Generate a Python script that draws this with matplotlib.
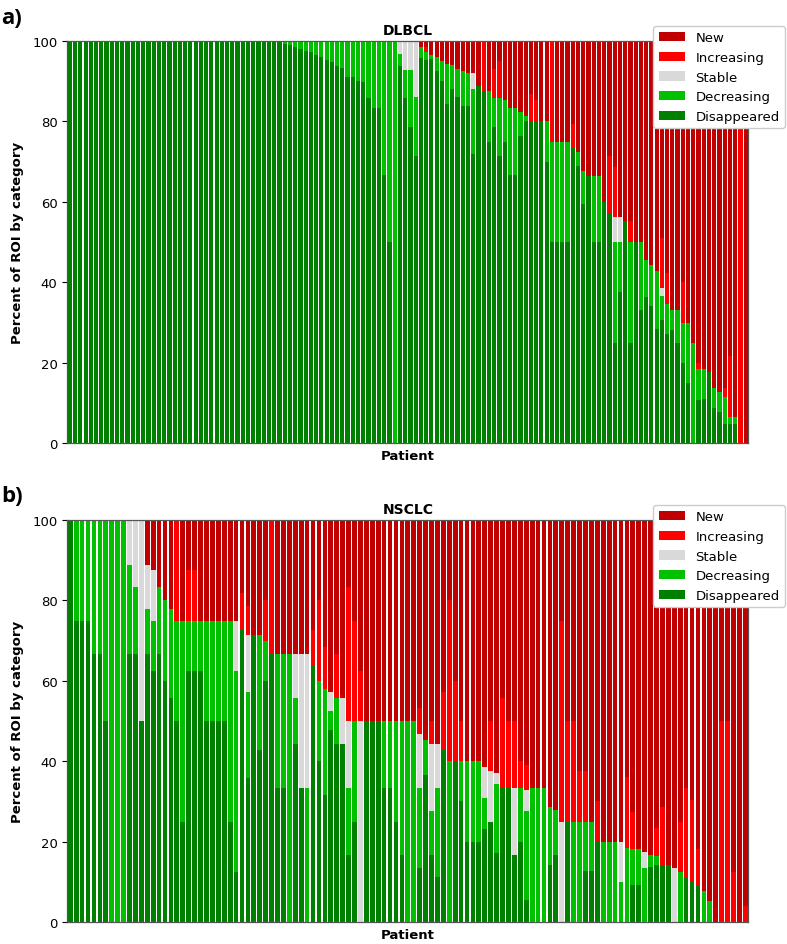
import matplotlib
matplotlib.use('Agg')
import matplotlib.pyplot as plt
import numpy as np
from matplotlib.patches import Patch

categories = ['Disappeared', 'Decreasing', 'Stable', 'Increasing', 'New']
colors = ['#008000', '#00C000', '#D9D9D9', '#FF0000', '#C00000']
legend_order = ['New', 'Increasing', 'Stable', 'Decreasing', 'Disappeared']
yticks = [0, 20, 40, 60, 80, 100]

# ---------------- DLBCL (130 patients) ----------------
dlbcl_disappeared = [
    100, 100, 100, 100, 100, 100, 100, 100, 100, 100,
    100, 100, 100, 100, 100, 100, 100, 100, 100, 100,
    100, 100, 100, 100, 100, 100, 100, 100, 100, 100,
    100, 100, 100, 100, 100, 100, 100, 100, 100, 100,
    100, 99.3, 99.0, 98.6, 98.0, 97.6, 97.2, 96.6, 95.9, 95.3,
    94.7, 93.9, 93.3, 91.0, 91.0, 90.1, 89.9, 85.7, 83.3, 83.3,
    66.7, 50.0, 0, 93.9, 85.7, 78.6, 71.5, 95.8, 95.3, 95.4,
    92.6, 90.1, 84.3, 88.1, 86.0, 83.9, 83.9, 71.9, 88.9, 87.6,
    75.0, 78.7, 71.5, 75.0, 66.7, 66.7, 76.4, 80.0, 80.0, 80.0,
    80.0, 70.0, 50, 50, 50, 50, 73.5, 69.0, 59.5, 66.5,
    50, 50, 59.9, 57.0, 25.0, 37.5, 55.3, 25, 50, 33.2,
    36.2, 34.2, 28.4, 30.5, 27.0, 28.2, 25.0, 20.0, 15.0, 0,
    10.6, 11.0, 17.6, 8.6, 7.6, 4.7, 4.7, 4.7, 0, 0,
]
dlbcl_decreasing = [
    0, 0, 0, 0, 0, 0, 0, 0, 0, 0,
    0, 0, 0, 0, 0, 0, 0, 0, 0, 0,
    0, 0, 0, 0, 0, 0, 0, 0, 0, 0,
    0, 0, 0, 0, 0, 0, 0, 0, 0, 0,
    0, 0.7, 1.0, 1.4, 2.0, 2.4, 2.8, 3.4, 4.1, 4.7,
    5.3, 6.1, 6.7, 9.0, 9.0, 9.9, 10.1, 14.3, 16.7, 16.7,
    33.3, 50.0, 100, 2.9, 7.2, 14.3, 14.5, 2.8, 1.9, 1.0,
    3.5, 5.0, 10.1, 6.0, 7.0, 8.6, 8.1, 16.2, 0, 0,
    12.5, 7.1, 14.3, 10.2, 16.6, 16.6, 6.0, 1.4, 0, 0,
    0, 10.0, 25, 25, 25, 25, 0, 3.3, 8.1, 0,
    16.5, 16.5, 0, 0, 24.9, 12.4, 0, 25, 0, 16.7,
    9.2, 10.2, 14.4, 6.0, 7.5, 5.0, 8.2, 9.9, 14.9, 25.0,
    7.9, 7.5, 0, 5.2, 5.0, 6.7, 1.7, 1.7, 0, 0,
]
dlbcl_stable = [
    0, 0, 0, 0, 0, 0, 0, 0, 0, 0,
    0, 0, 0, 0, 0, 0, 0, 0, 0, 0,
    0, 0, 0, 0, 0, 0, 0, 0, 0, 0,
    0, 0, 0, 0, 0, 0, 0, 0, 0, 0,
    0, 0, 0, 0, 0, 0, 0, 0, 0, 0,
    0, 0, 0, 0, 0, 0, 0, 0, 0, 0,
    0, 0, 0, 3.2, 7.1, 7.1, 14.0, 0, 0, 0,
    0, 0, 0, 0, 0, 0, 0, 3.9, 0, 0,
    0, 0, 0, 0, 0, 0, 0, 0, 0, 0,
    0, 0, 0, 0, 0, 0, 0, 0, 0, 0,
    0, 0, 0, 0, 6.2, 6.2, 0, 0, 0, 0,
    0, 0, 0, 2.0, 0, 0, 0, 0, 0, 0,
    0, 0, 0, 0, 0, 0, 0, 0, 0, 0,
]
dlbcl_increasing = [
    0, 0, 0, 0, 0, 0, 0, 0, 0, 0,
    0, 0, 0, 0, 0, 0, 0, 0, 0, 0,
    0, 0, 0, 0, 0, 0, 0, 0, 0, 0,
    0, 0, 0, 0, 0, 0, 0, 0, 0, 0,
    0, 0, 0, 0, 0, 0, 0, 0, 0, 0,
    0, 0, 0, 0, 0, 0, 0, 0, 0, 0,
    0, 0, 0, 0, 0, 0, 0, 0, 1.4, 0,
    0, 0, 0, 0, 0, 0, 0, 0, 0, 12.4,
    0, 7.2, 9.3, 0, 0, 0, 0, 0, 6.8, 5.2,
    0, 0, 25, 0, 0, 0, 5.9, 0, 0, 0,
    0, 0, 0, 14.5, 12.5, 0, 0, 5.3, 0, 0,
    0, 0, 0, 12.4, 7.8, 0, 0, 10.1, 0, 0,
    1.5, 0, 0, 0, 0, 2.4, 15.2, 0, 78.0, 0,
]
dlbcl_new = [
    0, 0, 0, 0, 0, 0, 0, 0, 0, 0,
    0, 0, 0, 0, 0, 0, 0, 0, 0, 0,
    0, 0, 0, 0, 0, 0, 0, 0, 0, 0,
    0, 0, 0, 0, 0, 0, 0, 0, 0, 0,
    0, 0, 0, 0, 0, 0, 0, 0, 0, 0,
    0, 0, 0, 0, 0, 0, 0, 0, 0, 0,
    0, 0, 0, 0, 0, 0, 0, 1.4, 1.4, 3.6,
    3.9, 4.9, 5.6, 5.9, 7.0, 7.5, 8.0, 8.0, 11.1, 0,
    12.5, 7.0, 4.9, 14.8, 16.7, 16.7, 17.6, 18.6, 13.2, 14.8,
    20.0, 20.0, 0, 25, 25, 25, 20.6, 27.7, 32.4, 33.5,
    33.5, 33.5, 40.1, 28.5, 31.4, 43.9, 44.7, 44.7, 50, 50.1,
    54.6, 55.6, 57.2, 49.1, 57.7, 66.8, 66.8, 60.0, 70.1, 75.0,
    80.0, 81.5, 82.4, 86.2, 87.4, 86.2, 78.4, 93.6, 22.0, 100,
]

# ---------------- NSCLC (115 patients) ----------------
nsclc_disappeared = [
    100, 75, 75, 75, 66.7, 66.7, 50, 0, 0, 0,
    66.7, 66.7, 50, 66.7, 62.5, 66.7, 60, 55.6, 50, 25,
    62.5, 62.5, 62.5, 50, 50, 50, 50, 25, 12.5, 72.7,
    35.7, 71.4, 42.8, 60, 66.7, 33.4, 33.4, 0, 44.4, 33.4,
    0, 63.6, 40, 31.6, 47.7, 44.4, 44.4, 16.7, 25, 0,
    50, 50, 50, 33.3, 33.3, 25, 16.7, 0, 0, 13.4,
    36.6, 16.6, 11.1, 42.9, 0, 40, 30, 20, 20, 20,
    23.1, 25, 17.1, 33.3, 33.3, 16.7, 20, 5.5, 0, 0,
    0, 14.3, 16.7, 0, 25, 0, 0, 12.6, 12.6, 20,
    0, 0, 0, 0, 0, 9.1, 9.1, 0, 13.8, 14.2,
    14.2, 14.2, 0, 0, 11.3, 10.1, 9.1, 0, 0, 0,
    0, 0, 0, 0, 0,
]
nsclc_decreasing = [
    0, 25, 25, 25, 33.3, 33.3, 50, 100, 100, 100,
    22.2, 16.6, 0, 11.1, 12.5, 16.6, 20, 22.2, 25, 50,
    12.5, 12.5, 12.5, 25, 25, 25, 25, 50, 50, 0,
    21.4, 0, 28.6, 10, 0, 33.3, 33.3, 66.7, 11.2, 0,
    33.4, 0, 20, 26.3, 4.7, 11.2, 0, 16.6, 25, 0,
    0, 0, 0, 16.7, 16.7, 25, 33.3, 50, 50, 20.0,
    8.6, 11.1, 22.2, 0, 40, 0, 10, 20, 20, 20,
    7.7, 0, 17.2, 0, 0, 0, 13.3, 22.0, 33.3, 33.3,
    33.3, 14.3, 11.1, 0, 0, 25, 25, 12.4, 12.4, 0,
    20, 20, 20, 10, 18.4, 9.1, 9.1, 13.4, 2.9, 2.1,
    0, 0, 0, 12.5, 0, 0, 0, 7.6, 5.1, 0,
    0, 0, 0, 0, 0,
]
nsclc_stable = [
    0, 0, 0, 0, 0, 0, 0, 0, 0, 0,
    11.1, 16.7, 50, 11.1, 12.5, 0, 0, 0, 0, 0,
    0, 0, 0, 0, 0, 0, 0, 0, 12.5, 0,
    14.3, 0, 0, 0, 0, 0, 0, 0, 11.1, 33.3,
    33.3, 0, 0, 0, 4.7, 0, 11.2, 16.7, 0, 50,
    0, 0, 0, 0, 0, 0, 0, 0, 0, 13.3,
    0, 16.7, 11.1, 0, 0, 0, 0, 0, 0, 0,
    7.7, 12.5, 2.7, 0, 0, 16.6, 0, 5.4, 0, 0,
    0, 0, 0, 25, 0, 0, 0, 0, 0, 0,
    0, 0, 0, 10, 0, 0, 0, 4.1, 0, 0,
    0, 0, 13.4, 0, 0, 0, 0, 0, 0, 0,
    0, 0, 0, 0, 0,
]
nsclc_increasing = [
    0, 0, 0, 0, 0, 0, 0, 0, 0, 0,
    0, 0, 0, 0, 0, 0, 0, 0, 25, 0,
    12.5, 12.5, 0, 0, 0, 0, 0, 0, 0, 9.1,
    7.1, 0, 0, 10, 33.3, 0, 0, 0, 0, 0,
    0, 9.1, 20, 10.5, 0, 11.1, 0, 33.3, 25, 12.5,
    0, 0, 0, 0, 0, 0, 0, 0, 0, 6.6,
    0, 5.6, 0, 14.2, 40, 20, 10, 0, 0, 0,
    0, 12.5, 0, 22.3, 16.7, 16.7, 6.7, 6.1, 0, 0,
    0, 0, 0, 50, 25, 25, 12.6, 12.6, 0, 10,
    0, 0, 0, 0, 17.7, 9.1, 0, 0, 0, 7.0,
    14.5, 0, 0, 12.5, 22.0, 20.3, 9.1, 0, 0, 0,
    50, 50, 12.5, 0, 4,
]
nsclc_new = [
    0, 0, 0, 0, 0, 0, 0, 0, 0, 0,
    0, 0, 0, 11.1, 12.5, 16.7, 20, 22.2, 0, 25,
    12.5, 12.5, 25, 25, 25, 25, 25, 25, 25, 18.2,
    21.4, 28.6, 28.6, 20, 0, 33.3, 33.3, 33.3, 33.3, 33.3,
    33.3, 27.3, 20, 31.6, 42.9, 33.3, 44.4, 16.7, 25, 37.5,
    50, 50, 50, 50, 50, 50, 50, 50, 50, 46.7,
    54.8, 50, 55.6, 42.9, 20, 40, 50, 60, 60, 60,
    61.5, 50, 63.0, 44.4, 50, 50, 60, 61.0, 66.7, 66.7,
    66.7, 71.4, 72.2, 25, 50, 50, 62.4, 62.4, 75, 70,
    80, 80, 80, 80, 63.9, 72.7, 81.8, 82.5, 83.3, 76.7,
    71.3, 85.8, 86.6, 75, 66.7, 69.6, 81.8, 92.4, 94.9, 100,
    50, 50, 87.5, 100, 96,
]

panels = [
    ('a)', 'DLBCL', [dlbcl_disappeared, dlbcl_decreasing, dlbcl_stable,
                     dlbcl_increasing, dlbcl_new]),
    ('b)', 'NSCLC', [nsclc_disappeared, nsclc_decreasing, nsclc_stable,
                     nsclc_increasing, nsclc_new]),
]

fig = plt.figure(figsize=(7.87, 9.45), dpi=100)
W, H = 787, 945
ax_rects = [
    (67.3 / W, 1 - 444 / H, 681 / W, 402 / H),
    (67.3 / W, 1 - 923 / H, 681 / W, 402 / H),
]
label_y = [1 - 24 / H, 1 - 502 / H]

for (lab, title, series), rect, ly in zip(panels, ax_rects, label_y):
    ax = fig.add_axes(rect)
    n = len(series[0])
    x = np.arange(n)
    bottom = np.zeros(n)
    for vals, col, name in zip(series, colors, categories):
        v = np.array(vals, dtype=float)
        ax.bar(x, v, bottom=bottom, width=0.8, color=col, linewidth=0, label=name)
        bottom += v
    ax.set_xlim(-0.5, n - 0.5)
    ax.set_ylim(0, 100)
    ax.set_xticks([])
    ax.set_yticks(yticks)
    ax.tick_params(axis='y', labelsize=9.5, length=3.5, width=0.8, colors='black')
    for sp in ax.spines.values():
        sp.set_color('#555555')
        sp.set_linewidth(0.9)
    ax.set_title(title, fontweight='bold', fontsize=10, pad=5)
    ax.set_xlabel('Patient', fontweight='bold', fontsize=9.5, labelpad=4)
    ax.set_ylabel('Percent of ROI by category', fontweight='bold', fontsize=9.5, labelpad=6)
    handles = [Patch(facecolor=colors[categories.index(c)], edgecolor='none', label=c)
               for c in legend_order]
    leg = ax.legend(handles=handles, loc='upper right', bbox_to_anchor=(1.054, 1.037),
                    borderaxespad=0, fontsize=9.5, framealpha=1.0, edgecolor='#cccccc')
    fig.text(0.002, ly, lab, fontsize=16, fontweight='bold', family=['Open Sans', 'DejaVu Sans'],
             va='baseline', ha='left')

fig.savefig('out.png', dpi=100)
